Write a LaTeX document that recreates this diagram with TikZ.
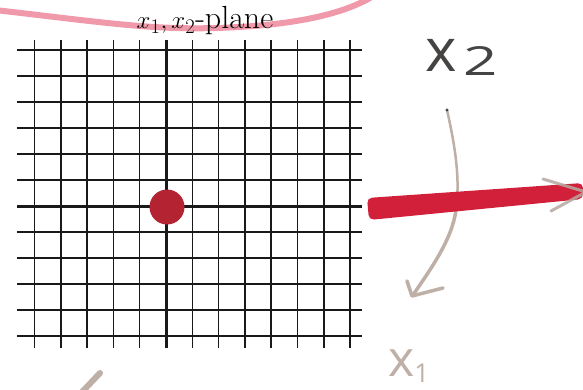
\documentclass[tikz,border=0pt]{standalone}
\usepackage{fontspec}
\newfontfamily\hand{Open Sans}
\definecolor{gridblack}{RGB}{25,25,25}
\definecolor{dotred}{RGB}{180,35,50}
\definecolor{barred}{RGB}{210,32,58}
\definecolor{pinkarc}{RGB}{236,120,142}
\definecolor{pencil}{RGB}{190,176,166}
\definecolor{darkpen}{RGB}{70,68,66}
\tikzset{
  gridthin/.style={draw=gridblack, line width=1.5pt},
  gridthick/.style={draw=gridblack, line width=3pt},
  penstroke/.style={draw=pencil, line width=3pt, line cap=round, line join=round},
}
\begin{document}
\begin{tikzpicture}[x=1pt,y=-1pt]
\useasboundingbox (0,0) rectangle (583,390);
\fill[white] (0,0) rectangle (583,390);
% pink arc at top
\draw[pinkarc, opacity=0.75, line width=6pt, line cap=round]
  (-5,10) .. controls (100,22) and (150,30) .. (215,28) .. controls (290,26) and (340,15) .. (370,-2);
% title
\node[anchor=base, inner sep=0pt, font=\fontsize{32}{34}\selectfont] (title) at (205,29) {$x_1, x_2$-plane};
% grid
\foreach \i in {0,...,12} {
  \pgfmathsetmacro{\xx}{34.5+26.3*\i}
  \ifnum\i=5
    \draw[gridthick] (\xx,40) -- (\xx,348);
  \else
    \draw[gridthin] (\xx,40) -- (\xx,348);
  \fi
}
\foreach \j in {0,...,11} {
  \pgfmathsetmacro{\yy}{50+26*\j}
  \ifnum\j=6
    \draw[gridthick] (17,\yy) -- (362,\yy);
  \else
    \draw[gridthin] (17,\yy) -- (362,\yy);
  \fi
}
% red dot
\node[circle, fill=dotred, minimum size=35pt, inner sep=0pt] (dot) at (167,207) {};
% x2 arrow (pencil)
\coordinate (ctop) at (447,110);
\coordinate (cmid) at (456,210);
\coordinate (ctip) at (413,295);
\draw[penstroke, line width=2.5pt] (ctop) .. controls (456,150) and (460,180) .. (cmid);
\draw[penstroke, line width=3.5pt] (cmid) .. controls (452,240) and (430,270) .. (ctip);
\fill[darkpen] (ctop) circle (1.6pt);
% red bar
\fill[barred, rounded corners=5pt] (367,198) -- (583,183) -- (583,199) -- (369,220) -- cycle;
% gray arrowhead at right end of bar
\coordinate (rtip) at (586,192);
\draw[penstroke, draw=pencil!85!gray, opacity=0.85] (543,179) -- (rtip);
\draw[penstroke, draw=pencil!85!gray, opacity=0.85] (551,211) -- (rtip);
% arrowhead of x2 arrow
\draw[penstroke, line width=3.5pt] (407,281) -- (412,296) -- (443,288);
% labels
\node[anchor=base west, inner sep=0pt, text=darkpen, font=\hand] (xtwo) at (425,72)
  {{\fontsize{60}{60}\selectfont x}\hspace{7pt}\raisebox{-4pt}{\scalebox{1.5}[1]{\fontsize{40}{40}\selectfont 2}}};
\node[anchor=base west, inner sep=0pt, text=pencil, font=\hand] (xone) at (388,376)
  {{\fontsize{50}{50}\selectfont x}\raisebox{-6pt}{\fontsize{26}{26}\selectfont 1}};
% bottom-left pencil stroke
\coordinate (bl1) at (82,392);
\coordinate (bl2) at (100,373);
\draw[penstroke, line width=6pt] (bl1) -- (bl2);
\end{tikzpicture}
\end{document}
